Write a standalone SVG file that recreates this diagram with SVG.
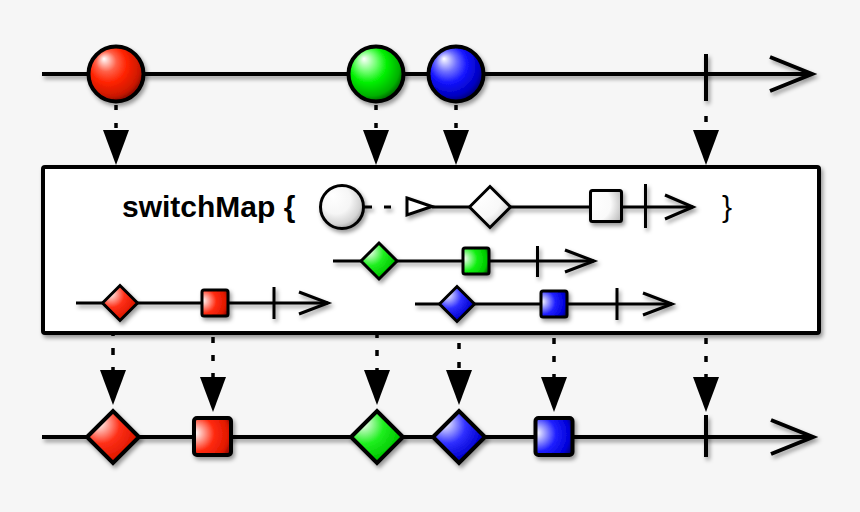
<svg xmlns="http://www.w3.org/2000/svg" width="860" height="512" viewBox="0 0 860 512">
<defs>
<style>
.tl{stroke:#000;stroke-width:4;fill:none}
.in{stroke:#000;stroke-width:3;fill:none}
.s4{stroke:#000;stroke-width:4}
.s3{stroke:#000;stroke-width:3}
.dash{stroke:#000;stroke-width:3.5;fill:none;stroke-dasharray:6 12;marker-end:url(#ah)}
.sh{filter:url(#sh)}
.lbl{font-family:"Liberation Sans",Arial,Helvetica,sans-serif;font-size:30px;fill:#000}
</style>
<filter id="sh" filterUnits="userSpaceOnUse" x="0" y="0" width="860" height="512">
<feDropShadow dx="2" dy="3" stdDeviation="2" flood-color="#000" flood-opacity="0.4"/>
</filter>
<marker id="ah" markerUnits="userSpaceOnUse" viewBox="0 0 35 26" markerWidth="35" markerHeight="26" refX="27" refY="13" orient="auto">
<path d="M0,0 L35,13 L0,26 z" fill="#000"/>
</marker>
<radialGradient id="cR" cx="0.42" cy="0.4" r="0.62" fx="0.28" fy="0.22">
<stop offset="0" stop-color="#ffffff"/><stop offset="0.3" stop-color="#ff6048"/><stop offset="0.55" stop-color="#ff2200"/><stop offset="0.85" stop-color="#cc1800"/><stop offset="1" stop-color="#780800"/>
</radialGradient>
<radialGradient id="cG" cx="0.42" cy="0.4" r="0.62" fx="0.28" fy="0.22">
<stop offset="0" stop-color="#ffffff"/><stop offset="0.3" stop-color="#70ff70"/><stop offset="0.55" stop-color="#00f000"/><stop offset="0.85" stop-color="#00b000"/><stop offset="1" stop-color="#005500"/>
</radialGradient>
<radialGradient id="cB" cx="0.42" cy="0.4" r="0.62" fx="0.28" fy="0.22">
<stop offset="0" stop-color="#ffffff"/><stop offset="0.3" stop-color="#7070ff"/><stop offset="0.55" stop-color="#1414ff"/><stop offset="0.85" stop-color="#0000c0"/><stop offset="1" stop-color="#000068"/>
</radialGradient>
<radialGradient id="cW" cx="0.42" cy="0.4" r="0.62" fx="0.28" fy="0.22">
<stop offset="0" stop-color="#ffffff"/><stop offset="0.55" stop-color="#f6f6f6"/><stop offset="0.85" stop-color="#d4d4d4"/><stop offset="1" stop-color="#a0a0a0"/>
</radialGradient>
<radialGradient id="qR" cx="0.12" cy="0.45" r="0.95" fx="0.03" fy="0.4">
<stop offset="0" stop-color="#ffffff"/><stop offset="0.5" stop-color="#ff2a10"/><stop offset="0.85" stop-color="#e01800"/><stop offset="1" stop-color="#900800"/>
</radialGradient>
<radialGradient id="qB" cx="0.12" cy="0.45" r="0.95" fx="0.03" fy="0.4">
<stop offset="0" stop-color="#ffffff"/><stop offset="0.5" stop-color="#2020ff"/><stop offset="0.85" stop-color="#0000d8"/><stop offset="1" stop-color="#000080"/>
</radialGradient>
<radialGradient id="qG" cx="0.12" cy="0.45" r="0.95" fx="0.03" fy="0.4">
<stop offset="0" stop-color="#ffffff"/><stop offset="0.5" stop-color="#10f010"/><stop offset="0.85" stop-color="#00c800"/><stop offset="1" stop-color="#006000"/>
</radialGradient>
<radialGradient id="qW" cx="0.12" cy="0.45" r="0.95" fx="0.03" fy="0.4">
<stop offset="0" stop-color="#ffffff"/><stop offset="0.6" stop-color="#fafafa"/><stop offset="1" stop-color="#bdbdbd"/>
</radialGradient>
<radialGradient id="dR" cx="0.32" cy="0.32" r="0.8" fx="0.22" fy="0.22">
<stop offset="0" stop-color="#ffffff"/><stop offset="0.45" stop-color="#ff3018"/><stop offset="0.8" stop-color="#e01800"/><stop offset="1" stop-color="#8a0800"/>
</radialGradient>
<radialGradient id="dG" cx="0.32" cy="0.32" r="0.8" fx="0.22" fy="0.22">
<stop offset="0" stop-color="#ffffff"/><stop offset="0.45" stop-color="#20f020"/><stop offset="0.8" stop-color="#00c800"/><stop offset="1" stop-color="#005a00"/>
</radialGradient>
<radialGradient id="dB" cx="0.32" cy="0.32" r="0.8" fx="0.22" fy="0.22">
<stop offset="0" stop-color="#ffffff"/><stop offset="0.45" stop-color="#3030ff"/><stop offset="0.8" stop-color="#0000d0"/><stop offset="1" stop-color="#000070"/>
</radialGradient>
<radialGradient id="dW" cx="0.32" cy="0.32" r="0.8" fx="0.22" fy="0.22">
<stop offset="0" stop-color="#ffffff"/><stop offset="0.6" stop-color="#f8f8f8"/><stop offset="1" stop-color="#c4c4c4"/>
</radialGradient>
</defs>

<rect x="0" y="0" width="860" height="512" fill="#f6f6f6"/>

<!-- source timeline -->
<g id="source-timeline" class="sh">
<line class="tl" x1="42" y1="74" x2="812" y2="74"/>
<polyline class="tl" points="770,57 812,74 770,91"/>
</g>

<g id="connectors">
<line class="dash" x1="116" y1="105" x2="116" y2="157" style="stroke-dasharray:5 13"/>
<line class="dash" x1="376" y1="105" x2="376" y2="157" style="stroke-dasharray:5 13"/>
<line class="dash" x1="456" y1="105" x2="456" y2="157" style="stroke-dasharray:5 13"/>
<line class="dash" x1="706" y1="116" x2="706" y2="157"/>
<line class="dash" x1="113" y1="329" x2="113" y2="397" style="stroke-dasharray:7 12"/>
<line class="dash" x1="213" y1="337" x2="213" y2="404"/>
<line class="dash" x1="377" y1="332" x2="377" y2="397"/>
<line class="dash" x1="459" y1="343" x2="459" y2="397" style="stroke-dasharray:6 13"/>
<line class="dash" x1="554" y1="320" x2="554" y2="404"/>
<line class="dash" x1="706" y1="338" x2="706" y2="404"/>
</g>

<g id="src-red" class="sh"><circle cx="116" cy="74" r="27.5" fill="url(#cR)" class="s4"/></g>
<g id="src-green" class="sh"><circle cx="376" cy="74" r="27.5" fill="url(#cG)" class="s4"/></g>
<g id="src-blue" class="sh"><circle cx="456" cy="74" r="27.5" fill="url(#cB)" class="s4"/></g>
<g id="src-complete" class="sh"><line class="tl" x1="706" y1="54" x2="706" y2="101"/></g>

<!-- operator box -->
<g id="operator">
<rect x="43" y="167" width="776" height="166" rx="2" fill="#ffffff" class="s4 sh"/>
<text class="lbl" x="122" y="217" font-weight="bold">switchMap {</text>
<text class="lbl" x="722" y="217">}</text>

<g id="proto" class="sh">
<line class="in" x1="362" y1="207" x2="372" y2="207"/>
<line class="in" x1="384" y1="207" x2="391" y2="207"/>
<line class="in" x1="432" y1="207" x2="693" y2="207"/>
<circle cx="342" cy="207" r="21.5" fill="url(#cW)" class="s3"/>
<polygon points="407,198 432,206.5 407,215" fill="#ffffff" class="s3"/>
<path d="M469.5,207 L490,186.5 L510.5,207 L490,227.5 Z" fill="url(#dW)" class="s3"/>
<rect x="590.5" y="190.5" width="31" height="31" rx="2" fill="url(#qW)" class="s3"/>
<line class="in" x1="645.5" y1="184" x2="645.5" y2="228"/>
<polyline class="in" points="665,195 693,207 665,219"/>
</g>

<g id="inner-green" class="sh">
<line class="in" x1="333" y1="261" x2="594" y2="261"/>
<path d="M361,261 L379,243 L397,261 L379,279 Z" fill="url(#dG)" class="s3"/>
<rect x="463" y="248" width="26" height="26" rx="2" fill="url(#qG)" class="s3"/>
<line class="in" x1="537.5" y1="246" x2="537.5" y2="277"/>
<polyline class="in" points="565,250 594,261 565,272"/>
</g>

<g id="inner-red" class="sh">
<line class="in" x1="76" y1="303" x2="328" y2="303"/>
<path d="M102.5,303 L120,285.5 L137.5,303 L120,320.5 Z" fill="url(#dR)" class="s3"/>
<rect x="202" y="290" width="26" height="26" rx="2" fill="url(#qR)" class="s3"/>
<line class="in" x1="274" y1="287" x2="274" y2="319"/>
<polyline class="in" points="299,292 328,303 299,314"/>
</g>

<g id="inner-blue" class="sh">
<line class="in" x1="415" y1="304" x2="672" y2="304"/>
<path d="M439.5,304 L457,286.5 L474.5,304 L457,321.5 Z" fill="url(#dB)" class="s3"/>
<rect x="541" y="291" width="26" height="26" rx="2" fill="url(#qB)" class="s3"/>
<line class="in" x1="617" y1="288" x2="617" y2="320"/>
<polyline class="in" points="643,293 672,304 643,315"/>
</g>
</g>

<!-- result timeline -->
<g id="result-timeline" class="sh">
<line class="tl" x1="42" y1="437" x2="813" y2="437"/>
<polyline class="tl" points="771,420 813,437 771,454"/>
</g>

<g id="out-red-diamond" class="sh"><path d="M87,437 L113,411 L139,437 L113,463 Z" fill="url(#dR)" class="s4"/></g>
<g id="out-red-square" class="sh"><rect x="194" y="418" width="37" height="37" rx="3" fill="url(#qR)" class="s4"/></g>
<g id="out-green-diamond" class="sh"><path d="M351,437 L377,411 L403,437 L377,463 Z" fill="url(#dG)" class="s4"/></g>
<g id="out-blue-diamond" class="sh"><path d="M433,437 L459,411 L485,437 L459,463 Z" fill="url(#dB)" class="s4"/></g>
<g id="out-blue-square" class="sh"><rect x="535.5" y="418" width="37" height="37" rx="3" fill="url(#qB)" class="s4"/></g>
<g id="out-complete" class="sh"><line class="tl" x1="706" y1="415" x2="706" y2="457"/></g>
</svg>
